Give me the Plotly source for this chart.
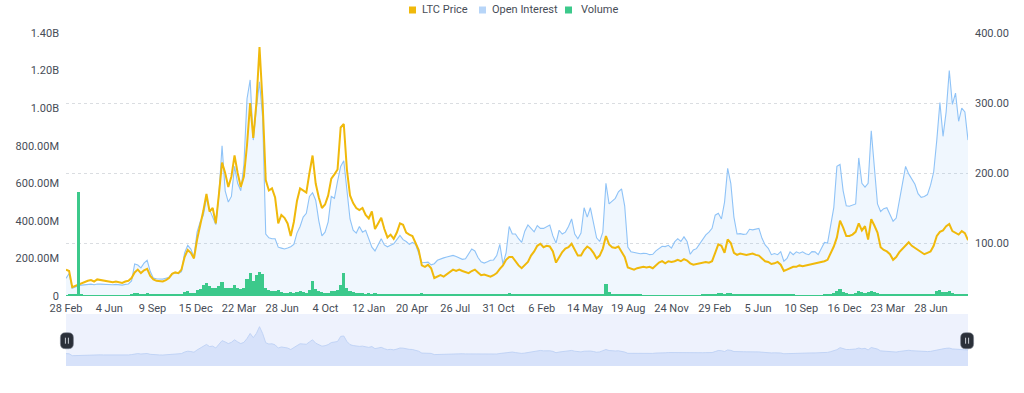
import pandas as pd
import plotly.graph_objects as go

# ---------------- data (weekly samples) ----------------
start_date = "2020-02-28"
n_points = 290
dates = pd.date_range(start=start_date, periods=n_points, freq="7D")

ltc_price = [
    62, 60, 37, 39, 41, 43, 45, 46, 47, 45,
    48, 47, 46, 45, 45, 44, 45, 44, 43, 45,
    46, 50, 58, 62, 57, 61, 63, 53, 48, 46,
    46, 45, 47, 50, 56, 58, 57, 62, 80, 90,
    86, 78, 105, 125, 146, 170, 145, 150, 128, 170,
    215, 200, 180, 195, 225, 200, 180, 195, 240, 300,
    250, 300, 380, 300, 190, 175, 178, 165, 128, 140,
    136, 128, 110, 130, 160, 178, 175, 172, 200, 225,
    185, 165, 150, 155, 168, 192, 198, 205, 265, 270,
    205, 168, 157, 150, 147, 150, 140, 135, 145, 120,
    128, 136, 120, 108, 112, 106, 115, 128, 126, 115,
    112, 110, 100, 90, 68, 66, 69, 64, 50, 52,
    54, 52, 55, 59, 62, 60, 62, 60, 58, 57,
    60, 62, 58, 54, 55, 54, 52, 54, 57, 63,
    68, 76, 80, 80, 74, 68, 64, 68, 73, 82,
    88, 96, 99, 94, 96, 95, 88, 72, 80, 87,
    92, 94, 99, 90, 82, 82, 90, 95, 92, 86,
    78, 82, 92, 110, 98, 94, 93, 95, 88, 80,
    65, 64, 62, 64, 65, 66, 65, 66, 64, 68,
    72, 74, 71, 74, 73, 74, 76, 74, 77, 75,
    71, 69, 70, 71, 72, 73, 72, 74, 86, 98,
    96, 86, 105, 100, 86, 83, 85, 84, 83, 84,
    85, 83, 82, 78, 74, 73, 70, 71, 73, 69,
    60, 62, 64, 66, 66, 68, 67, 68, 69, 70,
    70, 71, 72, 74, 76, 85, 95, 108, 132, 122,
    110, 110, 112, 116, 128, 118, 124, 105, 134, 125,
    115, 94, 90, 88, 84, 76, 80, 87, 92, 96,
    101, 96, 93, 90, 87, 84, 86, 88, 96, 110,
    116, 118, 124, 127, 117, 114, 112, 117, 114, 104,
]

open_interest_m = [
    94, 120, 41, 50, 55, 58, 60, 62, 63, 60,
    64, 63, 62, 62, 62, 60, 62, 60, 58, 62,
    64, 80, 170, 165, 150, 175, 190, 130, 95, 92,
    92, 90, 95, 100, 120, 125, 120, 130, 230, 270,
    250, 210, 340, 395, 430, 520, 460, 420, 380, 540,
    800, 560, 500, 530, 690, 600, 560, 700, 1050, 1150,
    830, 1000, 1140, 950, 330, 310, 305, 305, 260, 255,
    250, 255, 262, 275, 335, 370, 420, 440, 530, 550,
    510, 400, 320, 340, 395, 530, 520, 610, 690, 720,
    560, 410, 350, 335, 370, 340, 350, 300, 260, 240,
    270, 305, 272, 262, 270, 278, 300, 322, 300, 290,
    275, 285, 275, 230, 180, 178, 180, 166, 172, 190,
    198, 203, 208, 212, 216, 210, 202, 195, 198, 225,
    250, 240, 205, 182, 175, 182, 190, 192, 215, 275,
    170, 230, 370, 330, 330, 305, 285, 345, 378, 360,
    342, 375, 360, 360, 368, 378, 320, 282, 350, 330,
    340, 370, 410, 330, 305, 335, 470, 420, 470, 380,
    310, 290, 340, 600, 490, 505, 520, 555, 570, 480,
    260, 236, 232, 228, 225, 227, 226, 220, 222, 240,
    255, 265, 263, 270, 255, 288, 305, 290, 315, 290,
    222, 245, 252, 278, 305, 325, 340, 360, 430, 440,
    410, 500, 680, 600, 420, 330, 332, 328, 330, 355,
    352, 355, 360, 307, 272, 254, 220, 226, 220, 236,
    185, 200, 235, 220, 235, 228, 235, 225, 220, 236,
    235, 220, 250, 285, 282, 370, 470, 690, 700, 560,
    480, 478, 482, 490, 735, 600, 580, 600, 880, 660,
    490, 450, 465, 470, 432, 398, 415, 510, 590, 690,
    650, 620, 595, 545, 525, 530, 540, 590, 660, 830,
    1030, 850, 980, 1200, 1020, 1080, 930, 1000, 980, 830,
]

volume_m = [
    5, 6, 12, 8, 555, 6, 5, 5, 5, 5,
    5, 5, 5, 5, 5, 5, 4, 4, 4, 4,
    5, 8, 15, 14, 10, 12, 14, 10, 7, 6,
    6, 6, 6, 7, 8, 9, 8, 10, 22, 25,
    18, 16, 30, 38, 60, 70, 55, 45, 40, 55,
    75, 45, 40, 45, 60, 40, 35, 45, 90, 125,
    80, 110, 130, 115, 45, 30, 28, 25, 30, 20,
    18, 15, 20, 18, 22, 25, 20, 18, 30, 80,
    35, 25, 20, 15, 18, 25, 25, 30, 60, 120,
    45, 25, 20, 18, 15, 14, 12, 14, 12, 15,
    10, 10, 10, 9, 9, 10, 10, 9, 8, 8,
    8, 8, 9, 12, 15, 10, 8, 9, 12, 8,
    6, 6, 6, 6, 6, 6, 6, 6, 6, 6,
    7, 8, 6, 6, 6, 6, 6, 6, 6, 8,
    6, 10, 14, 10, 8, 7, 7, 8, 8, 9,
    8, 9, 9, 8, 8, 8, 7, 9, 7, 7,
    7, 7, 8, 7, 7, 7, 9, 8, 8, 7,
    7, 8, 10, 65, 20, 12, 10, 12, 10, 12,
    10, 8, 6, 6, 6, 5, 5, 5, 5, 5,
    5, 5, 5, 5, 5, 5, 5, 5, 5, 5,
    5, 5, 5, 5, 6, 6, 7, 8, 12, 16,
    14, 12, 18, 16, 12, 8, 7, 7, 6, 6,
    6, 6, 6, 6, 6, 6, 6, 6, 6, 8,
    10, 7, 6, 6, 5, 5, 5, 5, 5, 5,
    5, 5, 5, 6, 7, 12, 18, 25, 35, 22,
    15, 12, 12, 14, 25, 22, 18, 20, 28, 20,
    15, 12, 10, 10, 8, 8, 8, 9, 10, 10,
    9, 8, 8, 7, 7, 7, 8, 9, 12, 25,
    30, 20, 22, 28, 15, 12, 12, 12, 10, 9,
]

x_tick_labels = ["28 Feb", "4 Jun", "9 Sep", "15 Dec", "22 Mar", "28 Jun", "4 Oct",
                 "12 Jan", "20 Apr", "26 Jul", "31 Oct", "6 Feb", "14 May", "19 Aug",
                 "24 Nov", "29 Feb", "5 Jun", "10 Sep", "16 Dec", "23 Mar", "28 Jun"]
label_step_days = 97

left_tick_vals = [0, 200e6, 400e6, 600e6, 800e6, 1.0e9, 1.2e9, 1.4e9]
left_tick_text = ["0", "200.00M", "400.00M", "600.00M", "800.00M", "1.00B", "1.20B", "1.40B"]
right_tick_vals = [100, 200, 300, 400]
right_tick_text = ["100.00", "200.00", "300.00", "400.00"]

series_names = ["LTC Price", "Open Interest", "Volume"]

# ---------------- styling ----------------
C_PRICE = "#F0B90B"
C_OI_LINE = "#8FC3F7"
C_OI_FILL = "rgba(141,193,246,0.13)"
C_VOL = "#3CC98B"
C_TEXT = "#474D57"
FONT = "Roboto"

tick_dates = pd.date_range(start=start_date, periods=len(x_tick_labels), freq=f"{label_step_days}D")
oi_vals = [v * 1e6 for v in open_interest_m]
vol_vals = [v * 1e6 for v in volume_m]

MAIN_BOTTOM = 0.2102
MINI_TOP = 0.1562
MINI_RANGE = [-85, 530]

fig = go.Figure()

fig.add_trace(go.Scatter(
    x=dates, y=oi_vals, name=series_names[1], mode="lines",
    line=dict(color=C_OI_LINE, width=1.1), fill="tozeroy", fillcolor=C_OI_FILL,
    xaxis="x", yaxis="y", showlegend=False, hoverinfo="skip"))

fig.add_trace(go.Bar(
    x=dates, y=vol_vals, name=series_names[2], marker=dict(color=C_VOL, line=dict(width=0)),
    xaxis="x", yaxis="y3", showlegend=False, hoverinfo="skip"))

fig.add_trace(go.Scatter(
    x=dates, y=ltc_price, name=series_names[0], mode="lines",
    line=dict(color=C_PRICE, width=2), xaxis="x", yaxis="y2",
    showlegend=False, hoverinfo="skip"))

# mini (navigator) chart: price area
fig.add_trace(go.Scatter(
    x=dates, y=[MINI_RANGE[0]] * len(dates), mode="lines", line=dict(width=0),
    xaxis="x2", yaxis="y4", showlegend=False, hoverinfo="skip"))
fig.add_trace(go.Scatter(
    x=dates, y=ltc_price, mode="lines", line=dict(color="#B9CEF4", width=0.8),
    fill="tonexty", fillcolor="#D7E2FA", xaxis="x2", yaxis="y4",
    showlegend=False, hoverinfo="skip"))

axis_font = dict(family=FONT, size=11, color=C_TEXT)

fig.update_layout(
    width=1024, height=393,
    margin=dict(l=66, r=56, t=33, b=27, autoexpand=False),
    plot_bgcolor="white", paper_bgcolor="white",
    font=dict(family=FONT, color=C_TEXT),
    bargap=0.0,
    showlegend=False,
    xaxis=dict(domain=[0, 1], anchor="y", range=[dates[0], dates[-1]],
               tickmode="array", tickvals=tick_dates, ticktext=x_tick_labels,
               showgrid=False, zeroline=False, showline=False, ticks="",
               tickfont=axis_font, automargin=False, ticklabelstandoff=4),
    yaxis=dict(domain=[MAIN_BOTTOM, 1], anchor="x", range=[0, 1.4e9],
               tickmode="array", tickvals=left_tick_vals, ticktext=left_tick_text,
               showgrid=False, zeroline=False, ticks="", tickfont=axis_font,
               ticklabelstandoff=6, automargin=False),
    yaxis2=dict(overlaying="y", side="right", anchor="x", range=[24.3, 400],
                tickmode="array", tickvals=right_tick_vals, ticktext=right_tick_text,
                showgrid=True, gridcolor="#DADDE1", griddash="3px,3px", gridwidth=1,
                zeroline=False, ticks="", tickfont=axis_font, ticklabelstandoff=6,
                automargin=False),
    yaxis3=dict(overlaying="y", anchor="x", range=[0, 1.4e9], visible=False),
    xaxis2=dict(domain=[0, 1], anchor="y4", matches="x", showticklabels=False,
                showgrid=False, zeroline=False, ticks="", automargin=False),
    yaxis4=dict(domain=[0, MINI_TOP], anchor="x2", range=MINI_RANGE, visible=False),
)

shapes = []
# navigator background
shapes.append(dict(type="rect", xref="paper", yref="paper", x0=0, x1=1, y0=0, y1=MINI_TOP,
                   fillcolor="#EEF2FD", line=dict(width=0), layer="below"))
# navigator handles
handle_path = ("M -6.5,-3 L -6.5,3 Q -6.5,8 -1.5,8 L 1.5,8 Q 6.5,8 6.5,3 "
               "L 6.5,-3 Q 6.5,-8 1.5,-8 L -1.5,-8 Q -6.5,-8 -6.5,-3 Z")
for hx in (0.001, 0.999):
    shapes.append(dict(type="path", xref="paper", yref="paper", xsizemode="pixel",
                       ysizemode="pixel", xanchor=hx, yanchor=0.076, path=handle_path,
                       fillcolor="#2B3039", line=dict(color="rgba(120,126,140,0.6)", width=1)))
    for dx in (-1.5, 1.5):
        shapes.append(dict(type="line", xref="paper", yref="paper", xsizemode="pixel",
                           ysizemode="pixel", xanchor=hx, yanchor=0.076,
                           x0=dx, x1=dx, y0=-3, y1=3,
                           line=dict(color="#C9CDD4", width=1)))

# legend (squares + labels)
legend_colors = [C_PRICE, "#B7D5F8", C_VOL]
legend_sq_px = [412.5, 482.5, 568.5]
legend_txt_px = [420, 490, 579]
plot_left, plot_w = 66, 902
plot_bottom, plot_h = 366, 333
leg_y = (plot_bottom - 10) / plot_h
annotations = []
for name, col, sx, tx in zip(series_names, legend_colors, legend_sq_px, legend_txt_px):
    shapes.append(dict(type="rect", xref="paper", yref="paper", xsizemode="pixel",
                       ysizemode="pixel", xanchor=(sx - plot_left) / plot_w, yanchor=leg_y,
                       x0=-3.5, x1=3.5, y0=-3.5, y1=3.5, fillcolor=col, line=dict(width=0)))
    annotations.append(dict(text=name, xref="paper", yref="paper",
                            x=(tx - plot_left) / plot_w, y=leg_y, xanchor="left",
                            yanchor="middle", showarrow=False,
                            font=dict(family=FONT, size=11, color="#474D57")))

fig.update_layout(shapes=shapes, annotations=annotations)

# remove the browser's default page margin so the figure sits at the window origin
fig.write_html("out.html", config={"displayModeBar": False},
               post_script="document.body.style.margin='0';")
